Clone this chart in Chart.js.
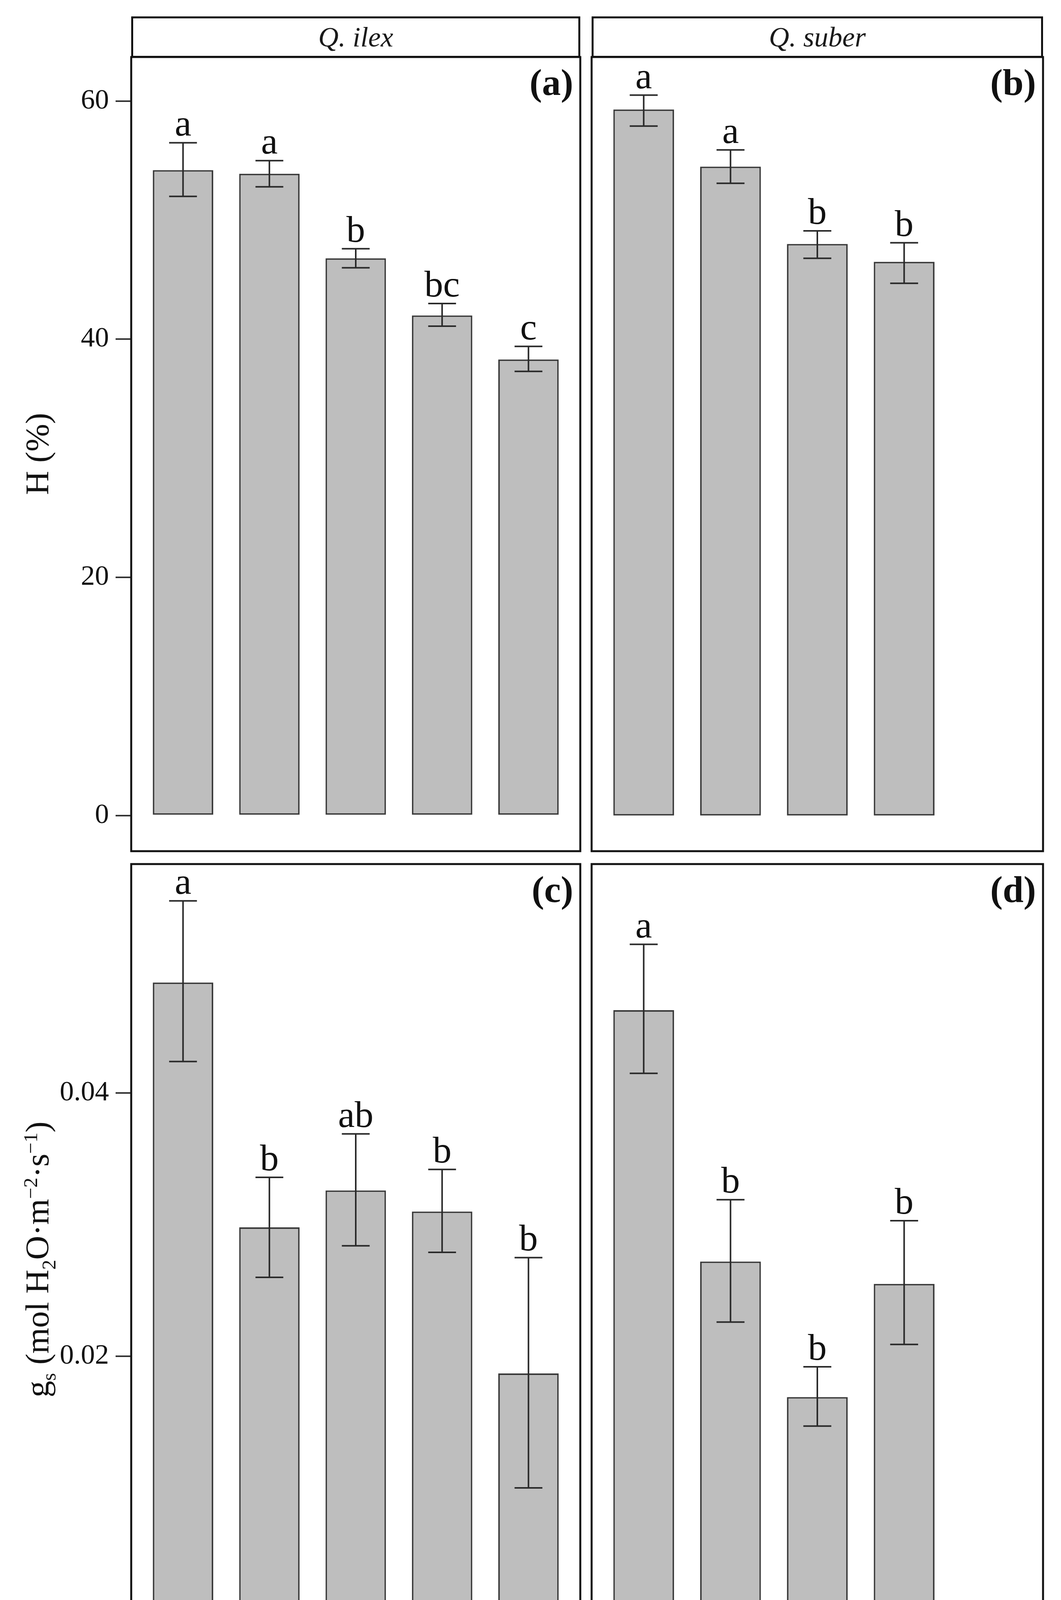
<!DOCTYPE html>
<html>
<head>
<meta charset="utf-8">
<script src="https://cdn.jsdelivr.net/npm/chart.js@4.4.1/dist/chart.umd.min.js"></script>
<style>
    html, body { margin: 0; padding: 0; background: #fff; }
    body { width: 2717px; height: 4457px; position: relative; overflow: hidden; font-family: 'Liberation Serif', 'Times New Roman', serif; color: #111; }
    canvas { position: absolute; }
    .strip { position: absolute; box-sizing: border-box; border: 5px solid #111; background: #fff; font-style: italic; font-size: 72px; color: #1a1a1a; display: flex; align-items: center; justify-content: center; }
    .title { position: absolute; white-space: nowrap; font-size: 85px; transform: translate(-50%, -50%); }
    .title.rot { transform: translate(-50%, -50%) rotate(-90deg); }
    .title sub, .title sup { font-size: 60%; line-height: 0; }
</style>
</head>
<body>
<div class="strip" style="left:336px; top:42px; width:1150px; height:106px;">Q. ilex</div>
<div class="strip" style="left:1515px; top:42px; width:1156px; height:106px;">Q. suber</div>
<div class="title rot" style="left:95px; top:1162px;">H (%)</div>
<div class="title rot" style="left:95px; top:3224px;">g<sub>s</sub> (mol H<sub>2</sub>O·m<sup>−2</sup>·s<sup>−1</sup>)</div>
<div class="title" style="left:1503px; top:4398px; font-size:84px;">DOY</div>

<canvas id="panelA" width="1500" height="2250" style="left:0; top:0;"></canvas>
<canvas id="panelB" width="1217" height="2195" style="left:1500px; top:0;"></canvas>
<canvas id="panelC" width="1500" height="2317" style="left:0; top:2140px;"></canvas>
<canvas id="panelD" width="1217" height="2317" style="left:1500px; top:2140px;"></canvas>

<script>
// x categories (day of year)
const doyLabels = ['144', '151', '158', '165', '172'];

// H (%) - Q. ilex
const ilexH = [54.2, 53.9, 46.8, 42.0, 38.3];
const ilexHLow = [52.0, 52.8, 46.0, 41.1, 37.3];
const ilexHHigh = [56.5, 55.0, 47.6, 43.0, 39.4];
const ilexHLetters = ['a', 'a', 'b', 'bc', 'c'];

// H (%) - Q. suber
const suberH = [59.3, 54.5, 48.0, 46.5];
const suberHLow = [57.9, 53.1, 46.8, 44.7];
const suberHHigh = [60.5, 55.9, 49.1, 48.1];
const suberHLetters = ['a', 'a', 'b', 'b'];

// gs - Q. ilex
const ilexGs = [0.0484, 0.0298, 0.0326, 0.0310, 0.0187];
const ilexGsLow = [0.0424, 0.0260, 0.0284, 0.0279, 0.0100];
const ilexGsHigh = [0.0546, 0.0336, 0.0369, 0.0342, 0.0275];
const ilexGsLetters = ['a', 'b', 'ab', 'b', 'b'];

// gs - Q. suber
const suberGs = [0.0463, 0.0272, 0.0169, 0.0255];
const suberGsLow = [0.0415, 0.0226, 0.0147, 0.0209];
const suberGsHigh = [0.0513, 0.0319, 0.0192, 0.0303];
const suberGsLetters = ['a', 'b', 'b', 'b'];

const hTicks = [0, 20, 40, 60];
const gsTicks = [0, 0.02, 0.04];

const SERIF = '"Liberation Serif", "Times New Roman", serif';

// error bars, letters, panel frame and tag
const panelDecor = {
    id: 'panelDecor',
    afterDatasetsDraw(chart, args, opts) {
        const {ctx, chartArea} = chart;
        const yScale = chart.scales.y;
        const meta = chart.getDatasetMeta(0);
        ctx.save();
        opts.low.forEach((lo, i) => {
            const bar = meta.data[i];
            const cx = bar.x;
            const half = bar.width * 0.23;
            const yHi = yScale.getPixelForValue(opts.high[i]);
            const yLo = yScale.getPixelForValue(lo);
            ctx.strokeStyle = '#2a2a2a';
            ctx.lineWidth = 4;
            ctx.beginPath();
            ctx.moveTo(cx, yHi);
            ctx.lineTo(cx, yLo);
            ctx.moveTo(cx - half, yHi);
            ctx.lineTo(cx + half, yHi);
            ctx.moveTo(cx - half, yLo);
            ctx.lineTo(cx + half, yLo);
            ctx.stroke();
            ctx.fillStyle = '#111';
            ctx.font = `96px ${SERIF}`;
            ctx.textAlign = 'center';
            ctx.textBaseline = 'alphabetic';
            ctx.fillText(opts.letters[i], cx, yHi - 18);
        });
        ctx.strokeStyle = '#111';
        ctx.lineWidth = 5;
        ctx.strokeRect(chartArea.left, chartArea.top, chartArea.right - chartArea.left, chartArea.bottom - chartArea.top);
        ctx.fillStyle = '#111';
        ctx.font = `bold 96px ${SERIF}`;
        ctx.textAlign = 'right';
        ctx.textBaseline = 'alphabetic';
        ctx.fillText(opts.tag, chartArea.right - 18, chartArea.top + 97);
        ctx.restore();
    }
};

const buildPanel = (canvasId, p) => {
    let ctx = document.getElementById(canvasId).getContext('2d');
    return new Chart(ctx, {
        type: 'bar',
        data: {
            datasets: [{
                data: p.values.map((v, i) => ({x: i, y: v})),
                backgroundColor: '#bebebe',
                borderColor: '#3a3a3a',
                borderWidth: 4,
                borderSkipped: false,
                barPercentage: 0.7,
                categoryPercentage: 1
            }]
        },
        options: {
            responsive: false,
            animation: false,
            devicePixelRatio: 1,
            layout: {padding: p.pad},
            plugins: {
                legend: {display: false},
                tooltip: {enabled: false},
                panelDecor: {low: p.low, high: p.high, letters: p.letters, tag: p.tag}
            },
            scales: {
                x: {
                    type: 'linear',
                    min: -0.6,
                    max: 4.6,
                    offset: false,
                    display: p.showX,
                    afterBuildTicks: (s) => { s.ticks = doyLabels.map((_, i) => ({value: i})); },
                    afterFit: (s) => { s.height = p.showX ? 200 : 0; },
                    ticks: {
                        callback: (v) => doyLabels[v],
                        font: {family: SERIF, size: 72},
                        color: '#111',
                        padding: 0,
                        autoSkip: false,
                        maxRotation: 0
                    },
                    grid: {drawOnChartArea: false, offset: false, tickLength: 40, color: '#333', lineWidth: 4},
                    border: {display: false}
                },
                y: {
                    min: p.min,
                    max: p.max,
                    display: p.showY,
                    afterBuildTicks: (s) => { s.ticks = p.ticks.map((v) => ({value: v})); },
                    afterFit: (s) => { s.width = p.showY ? 220 : 0; },
                    ticks: {
                        callback: (v) => p.fmt(v),
                        font: {family: SERIF, size: 72},
                        color: '#111',
                        padding: 17
                    },
                    grid: {drawOnChartArea: false, tickLength: 40, color: '#333', lineWidth: 4},
                    border: {display: false}
                }
            }
        },
        plugins: [panelDecor]
    });
};

const hFmt = (v) => String(v);
const gsFmt = (v) => v.toFixed(2);

buildPanel('panelA', {
    values: ilexH, low: ilexHLow, high: ilexHHigh, letters: ilexHLetters, tag: '(a)',
    min: -2.99, max: 63.7, ticks: hTicks, fmt: hFmt, showX: false, showY: true,
    pad: {left: 116, top: 146, right: 14, bottom: 71}
});
buildPanel('panelB', {
    values: suberH, low: suberHLow, high: suberHHigh, letters: suberHLetters, tag: '(b)',
    min: -2.99, max: 63.7, ticks: hTicks, fmt: hFmt, showX: false, showY: false,
    pad: {left: 15, top: 146, right: 46, bottom: 16}
});
buildPanel('panelC', {
    values: ilexGs, low: ilexGsLow, high: ilexGsHigh, letters: ilexGsLetters, tag: '(c)',
    min: -0.00267, max: 0.0574, ticks: gsTicks, fmt: gsFmt, showX: true, showY: true,
    pad: {left: 116, top: 72, right: 14, bottom: 21}
});
buildPanel('panelD', {
    values: suberGs, low: suberGsLow, high: suberGsHigh, letters: suberGsLetters, tag: '(d)',
    min: -0.00267, max: 0.0574, ticks: gsTicks, fmt: gsFmt, showX: true, showY: false,
    pad: {left: 15, top: 72, right: 46, bottom: 21}
});
</script>
</body>
</html>
